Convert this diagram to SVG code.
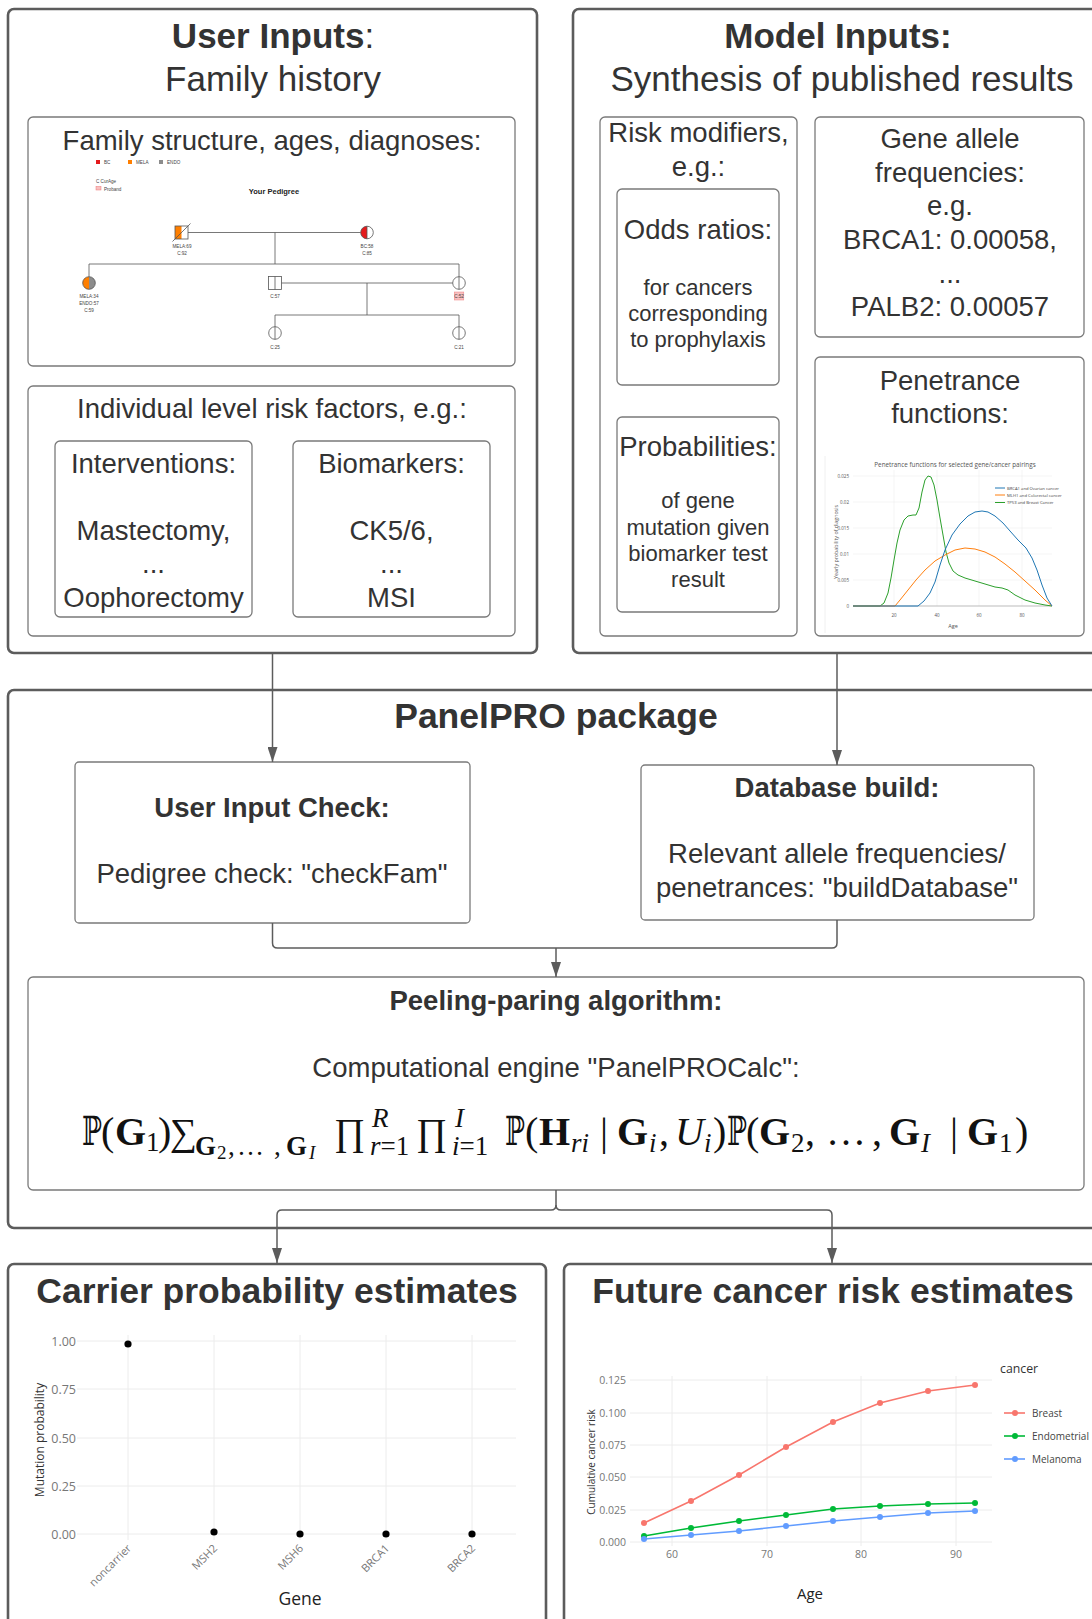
<svg xmlns="http://www.w3.org/2000/svg" width="1092" height="1619" viewBox="0 0 1092 1619">
<defs>
<style>
.outer{fill:#fff;stroke:#5c5c5c;stroke-width:2.6}
.inner{fill:#fff;stroke:#7a7a7a;stroke-width:1.3}
.t{font-family:"Liberation Sans",Arial,sans-serif;fill:#333;text-anchor:middle}
.h35{font-size:35px}
.b{font-weight:bold}
.f27{font-size:27.5px}
.f22{font-size:22px}
.conn{fill:none;stroke:#5c5c5c;stroke-width:1.5}
.ped{stroke:#555;stroke-width:0.8;fill:none}
.pt{font-family:"Liberation Sans",Arial,sans-serif;font-size:4.6px;fill:#444;text-anchor:middle}
.ct{font-family:"Open Sans","Liberation Sans",sans-serif;fill:#777}
.grid{stroke:#ececec;stroke-width:1}
.mf{font-family:"Liberation Serif","DejaVu Serif",serif;fill:#111}
.s27{font-size:27px}
.s19{font-size:19px}
.it{font-style:italic}
</style>
<marker id="ah" viewBox="0 0 15 10" refX="15" refY="5" markerWidth="15" markerHeight="10" markerUnits="userSpaceOnUse" orient="auto">
<path d="M0,0 L15,5 L0,10 z" fill="#5c5c5c"/>
</marker>
</defs>
<rect width="1092" height="1619" fill="#fff"/>

<!-- User Inputs -->
<g id="user-inputs">
<rect class="outer" x="8" y="9" width="529" height="644" rx="6"/>
<text class="t h35" x="273" y="48"><tspan class="b">User Inputs</tspan>:</text>
<text class="t h35" x="273" y="91">Family history</text>
</g>

<g id="family-structure">
<rect class="inner" x="28" y="117" width="487" height="249" rx="5"/>
<text class="t f27" x="272" y="150">Family structure, ages, diagnoses:</text>
<g id="pedigree">
<rect x="96" y="160" width="4" height="4" fill="#e41a1c"/>
<text class="pt" x="104" y="164" style="text-anchor:start">BC</text>
<rect x="128" y="160" width="4" height="4" fill="#ff7f00"/>
<text class="pt" x="136" y="164" style="text-anchor:start">MELA</text>
<rect x="159" y="160" width="4" height="4" fill="#8c8c8c"/>
<text class="pt" x="167" y="164" style="text-anchor:start">ENDO</text>
<text class="pt" x="96" y="183" style="text-anchor:start">C  CurAge</text>
<rect x="96" y="186.5" width="5" height="3.5" fill="#f9c0c0" stroke="#ee7777" stroke-width="0.5"/>
<text class="pt" x="104" y="190.5" style="text-anchor:start">Proband</text>
<text x="274" y="194" style="font-family:'Liberation Sans',Arial,sans-serif;font-size:7.5px;font-weight:bold;fill:#222;text-anchor:middle">Your Pedigree</text>
<path class="ped" d="M188,232.5 H360.7 M275,232.5 V264 M89,264 H459 M89,264 V276.7 M459,264 V276.7 M281.5,283 H452.7 M367,283 V315 M275,315 H459 M275,315 V326.7 M459,315 V326.7"/>
<rect x="175" y="226" width="6.5" height="13" fill="#ff7f00"/>
<rect class="ped" x="175" y="226" width="13" height="13"/>
<path class="ped" d="M172.5,241.5 L190.5,223.5"/>
<path d="M367,226.2 A6.3,6.3 0 0 0 367,238.8 Z" fill="#e41a1c"/>
<circle class="ped" cx="367" cy="232.5" r="6.3"/>
<path class="ped" d="M367,226.2 V238.8"/>
<path d="M89,276.7 A6.3,6.3 0 0 0 89,289.3 Z" fill="#ff7f00"/>
<path d="M89,276.7 A6.3,6.3 0 0 1 89,289.3 Z" fill="#8c8c8c"/>
<circle class="ped" cx="89" cy="283" r="6.3"/>
<rect class="ped" x="268.5" y="276.5" width="13" height="13"/>
<path class="ped" d="M275,276.5 V289.5"/>
<circle class="ped" cx="459" cy="283" r="6.3"/>
<path class="ped" d="M459,276.7 V289.3"/>
<rect x="454.3" y="292" width="9.5" height="8" fill="#f9c0c0" stroke="#f08080" stroke-width="0.5"/>
<circle class="ped" cx="275" cy="333" r="6.3"/>
<path class="ped" d="M275,326.7 V339.3"/>
<circle class="ped" cx="459" cy="333" r="6.3"/>
<path class="ped" d="M459,326.7 V339.3"/>
<text class="pt" x="182" y="248">MELA:69</text>
<text class="pt" x="182" y="255">C:92</text>
<text class="pt" x="367" y="248">BC:58</text>
<text class="pt" x="367" y="255">C:85</text>
<text class="pt" x="89" y="298">MELA:34</text>
<text class="pt" x="89" y="305">ENDO:57</text>
<text class="pt" x="89" y="312">C:59</text>
<text class="pt" x="275" y="298">C:57</text>
<text class="pt" x="459" y="298">C:52</text>
<text class="pt" x="275" y="349">C:25</text>
<text class="pt" x="459" y="349">C:21</text>
</g>
</g>

<g id="individual-risk">
<rect class="inner" x="28" y="386" width="487" height="250" rx="5"/>
<text class="t f27" x="272" y="418">Individual level risk factors, e.g.:</text>
</g>
<g id="interventions">
<rect class="inner" x="55" y="441" width="197" height="176" rx="5"/>
<text class="t f27" x="153.5" y="473">Interventions:</text>
<text class="t f27" x="153.5" y="540">Mastectomy,</text>
<text class="t f27" x="153.5" y="573">...</text>
<text class="t f27" x="153.5" y="607">Oophorectomy</text>
</g>
<g id="biomarkers">
<rect class="inner" x="293" y="441" width="197" height="176" rx="5"/>
<text class="t f27" x="391.5" y="473">Biomarkers:</text>
<text class="t f27" x="391.5" y="540">CK5/6,</text>
<text class="t f27" x="391.5" y="573">...</text>
<text class="t f27" x="391.5" y="607">MSI</text>
</g>

<!-- Model Inputs -->
<g id="model-inputs">
<rect class="outer" x="573" y="9" width="540" height="644" rx="6"/>
<text class="t h35 b" x="838" y="48">Model Inputs:</text>
<text class="t h35" x="842" y="91">Synthesis of published results</text>
</g>
<g id="risk-modifiers">
<rect class="inner" x="600" y="117" width="197" height="519" rx="5"/>
<text class="t f27" x="698.5" y="142">Risk modifiers,</text>
<text class="t f27" x="698.5" y="176">e.g.:</text>
</g>
<g id="odds-ratios">
<rect class="inner" x="617" y="189" width="162" height="196" rx="5"/>
<text class="t f27" x="698" y="239">Odds ratios:</text>
<text class="t f22" x="698" y="295">for cancers</text>
<text class="t f22" x="698" y="321">corresponding</text>
<text class="t f22" x="698" y="347">to prophylaxis</text>
</g>
<g id="probabilities">
<rect class="inner" x="617" y="417" width="162" height="195" rx="5"/>
<text class="t f27" x="698" y="456">Probabilities:</text>
<text class="t f22" x="698" y="508">of gene</text>
<text class="t f22" x="698" y="535">mutation given</text>
<text class="t f22" x="698" y="561">biomarker test</text>
<text class="t f22" x="698" y="587">result</text>
</g>
<g id="allele-frequencies">
<rect class="inner" x="815" y="117" width="269" height="220" rx="5"/>
<text class="t f27" x="950" y="148">Gene allele</text>
<text class="t f27" x="950" y="182">frequencies:</text>
<text class="t f27" x="950" y="215">e.g.</text>
<text class="t f27" x="950" y="249">BRCA1: 0.00058,</text>
<text class="t f27" x="950" y="283">...</text>
<text class="t f27" x="950" y="316">PALB2: 0.00057</text>
</g>
<g id="penetrance">
<rect class="inner" x="815" y="357" width="269" height="279" rx="5"/>
<text class="t f27" x="950" y="390">Penetrance</text>
<text class="t f27" x="950" y="423">functions:</text>
<line x1="825" y1="456" x2="825" y2="633" stroke="#f0f0f0" stroke-width="1"/>
<text x="955" y="467" style="font-family:'Open Sans','Liberation Sans',sans-serif;font-size:6.3px;fill:#555;text-anchor:middle">Penetrance functions for selected gene/cancer pairings</text>
<g stroke="#eeeeee" stroke-width="0.6">
<line x1="853" y1="476" x2="1052" y2="476"/><line x1="853" y1="502" x2="1052" y2="502"/><line x1="853" y1="528" x2="1052" y2="528"/><line x1="853" y1="554" x2="1052" y2="554"/><line x1="853" y1="580" x2="1052" y2="580"/>
<line x1="894" y1="470" x2="894" y2="606"/><line x1="937" y1="470" x2="937" y2="606"/><line x1="979" y1="470" x2="979" y2="606"/><line x1="1022" y1="470" x2="1022" y2="606"/>
</g>
<line x1="853" y1="606" x2="1052" y2="606" stroke="#aaa" stroke-width="0.8"/>
<g style="font-family:'Open Sans','Liberation Sans',sans-serif;font-size:4.5px;fill:#555;text-anchor:end">
<text x="849" y="478">0.025</text><text x="849" y="504">0.02</text><text x="849" y="530">0.015</text><text x="849" y="556">0.01</text><text x="849" y="582">0.005</text><text x="849" y="608">0</text>
</g>
<g style="font-family:'Open Sans','Liberation Sans',sans-serif;font-size:4.5px;fill:#555;text-anchor:middle">
<text x="894" y="617">20</text><text x="937" y="617">40</text><text x="979" y="617">60</text><text x="1022" y="617">80</text>
</g>
<text x="953" y="628" style="font-family:'Open Sans','Liberation Sans',sans-serif;font-size:5.5px;fill:#555;text-anchor:middle">Age</text>
<text transform="translate(838,542) rotate(-90)" style="font-family:'Open Sans','Liberation Sans',sans-serif;font-size:5.3px;fill:#555;text-anchor:middle">Yearly probability of diagnosis</text>
<polyline fill="none" stroke="#2ca02c" stroke-width="1" stroke-linejoin="round" points="853,606 880,606 884,603 888,593 891,578 894,560 897,543 900,530 904,520 908,516 913,515 916,515 919,508 922,492 925,480 928,476 931,477 934,485 937,500 940,518 943,535 946,552 949,563 953,571 958,575 965,578 975,581 985,584 995,587 1002,588 1008,590 1015,595 1025,600 1035,603 1045,605 1052,606"/>
<polyline fill="none" stroke="#ff7f0e" stroke-width="1" stroke-linejoin="round" points="853,606 895,606 900,600 908,590 916,580 925,570 935,561 945,555 955,550 965,548 975,549 985,552 995,557 1005,564 1015,572 1025,581 1035,590 1045,600 1052,606"/>
<polyline fill="none" stroke="#1f77b4" stroke-width="1" stroke-linejoin="round" points="853,606 918,606 924,601 930,593 935,582 940,565 945,550 952,535 960,524 968,516 975,512 982,511 988,512 995,516 1003,523 1010,531 1018,540 1026,548 1032,558 1037,570 1042,585 1047,598 1052,606"/>
<g stroke-width="1"><line x1="995" y1="488" x2="1005" y2="488" stroke="#1f77b4"/><line x1="995" y1="495" x2="1005" y2="495" stroke="#ff7f0e"/><line x1="995" y1="502.5" x2="1005" y2="502.5" stroke="#2ca02c"/></g>
<g style="font-family:'Open Sans','Liberation Sans',sans-serif;font-size:4.2px;fill:#444">
<text x="1007" y="489.5">BRCA1 and Ovarian cancer</text><text x="1007" y="496.5">MLH1 and Colorectal cancer</text><text x="1007" y="504">TP53 and Breast Cancer</text>
</g>
</g>

<!-- PanelPRO -->
<g id="panelpro-package">
<rect class="outer" x="8" y="690" width="1105" height="538" rx="6"/>
<text class="t b" style="font-size:35.5px" x="556" y="728">PanelPRO package</text>
</g>
<g id="user-input-check">
<rect class="inner" x="75" y="762" width="395" height="161" rx="4"/>
<text class="t f27 b" x="272" y="817">User Input Check:</text>
<text class="t f27" x="272" y="883">Pedigree check: "checkFam"</text>
</g>
<g id="database-build">
<rect class="inner" x="641" y="765" width="393" height="155" rx="4"/>
<text class="t f27 b" x="837" y="797">Database build:</text>
<text class="t f27" x="837" y="863">Relevant allele frequencies/</text>
<text class="t f27" x="837" y="897">penetrances: "buildDatabase"</text>
</g>
<g id="peeling-paring">
<rect class="inner" x="28" y="977" width="1056" height="213" rx="5"/>
<text class="t f27 b" x="556" y="1010">Peeling-paring algorithm:</text>
<text class="t f27" x="556" y="1077">Computational engine "PanelPROCalc":</text>
<g class="mf" style="font-size:40px">
<text transform="translate(82,1145) scale(0.66,1)">ℙ</text>
<text transform="translate(505,1145) scale(0.66,1)">ℙ</text>
<text transform="translate(727,1145) scale(0.66,1)">ℙ</text>
<text y="1145"><tspan x="101">(</tspan><tspan x="115" font-weight="bold">G</tspan><tspan x="146" y="1151" class="s27">1</tspan><tspan x="158" y="1145">)</tspan><tspan x="170" y="1145" style="font-size:38px">∑</tspan><tspan x="195" y="1155" class="s27" font-weight="bold">G</tspan><tspan x="217" y="1159" class="s19">2</tspan><tspan x="228" y="1155" class="s27">,</tspan><tspan x="237" y="1155" class="s27">…</tspan><tspan x="274" y="1155" class="s27">,</tspan><tspan x="286" y="1155" class="s27" font-weight="bold">G</tspan><tspan x="309" y="1159" class="s19 it">I</tspan><tspan x="334" y="1145" style="font-size:38px">∏</tspan><tspan x="372" y="1127" class="s27 it">R</tspan><tspan x="370" y="1155" class="s27"><tspan class="it">r</tspan>=1</tspan><tspan x="416" y="1145" style="font-size:38px">∏</tspan><tspan x="455" y="1127" class="s27 it">I</tspan><tspan x="452" y="1155" class="s27"><tspan class="it">i</tspan>=1</tspan><tspan x="525" y="1145">(</tspan><tspan x="539" y="1145" font-weight="bold">H</tspan><tspan x="571" y="1152" class="s27 it">ri</tspan><tspan x="600" y="1145">|</tspan><tspan x="617" y="1145" font-weight="bold">G</tspan><tspan x="649" y="1152" class="s27 it">i</tspan><tspan x="659" y="1145">,</tspan><tspan x="675" y="1145" class="it">U</tspan><tspan x="704" y="1152" class="s27 it">i</tspan><tspan x="713" y="1145">)</tspan><tspan x="746" y="1145">(</tspan><tspan x="759" y="1145" font-weight="bold">G</tspan><tspan x="791" y="1152" class="s27">2</tspan><tspan x="805" y="1145">,</tspan><tspan x="826" y="1145">…</tspan><tspan x="872" y="1145">,</tspan><tspan x="889" y="1145" font-weight="bold">G</tspan><tspan x="921" y="1152" class="s27 it">I</tspan><tspan x="950" y="1145">|</tspan><tspan x="967" y="1145" font-weight="bold">G</tspan><tspan x="999" y="1152" class="s27">1</tspan><tspan x="1015" y="1145">)</tspan></text>
</g>
</g>

<!-- Carrier probability -->
<g id="carrier-probability">
<rect class="outer" x="8" y="1264" width="538" height="380" rx="6"/>
<text class="t b" style="font-size:35.5px" x="277" y="1303">Carrier probability estimates</text>
<g class="grid">
<line x1="77" y1="1341" x2="516" y2="1341"/><line x1="77" y1="1389" x2="516" y2="1389"/><line x1="77" y1="1438" x2="516" y2="1438"/><line x1="77" y1="1486" x2="516" y2="1486"/><line x1="77" y1="1534" x2="516" y2="1534"/>
<line x1="128" y1="1335" x2="128" y2="1540"/><line x1="214" y1="1335" x2="214" y2="1540"/><line x1="300" y1="1335" x2="300" y2="1540"/><line x1="386" y1="1335" x2="386" y2="1540"/><line x1="472" y1="1335" x2="472" y2="1540"/>
</g>
<g class="ct" style="font-size:12.5px;text-anchor:end">
<text x="76" y="1345.5">1.00</text><text x="76" y="1393.5">0.75</text><text x="76" y="1442.5">0.50</text><text x="76" y="1490.5">0.25</text><text x="76" y="1538.5">0.00</text>
</g>
<g class="ct" style="font-size:11px;text-anchor:end">
<text transform="translate(132,1549) rotate(-45)">noncarrier</text>
<text transform="translate(218,1549) rotate(-45)">MSH2</text>
<text transform="translate(304,1549) rotate(-45)">MSH6</text>
<text transform="translate(390,1549) rotate(-45)">BRCA1</text>
<text transform="translate(476,1549) rotate(-45)">BRCA2</text>
</g>
<text transform="translate(44,1440) rotate(-90)" style="font-family:'Open Sans','Liberation Sans',sans-serif;font-size:12px;fill:#333;text-anchor:middle">Mutation probability</text>
<text x="300" y="1605" style="font-family:'Open Sans','Liberation Sans',sans-serif;font-size:17.5px;fill:#222;text-anchor:middle">Gene</text>
<g fill="#000">
<circle cx="128" cy="1344" r="3.6"/><circle cx="214" cy="1532" r="3.6"/><circle cx="300" cy="1534" r="3.6"/><circle cx="386" cy="1534" r="3.6"/><circle cx="472" cy="1534" r="3.6"/>
</g>
</g>

<!-- Future cancer risk -->
<g id="future-risk">
<rect class="outer" x="564" y="1264" width="550" height="380" rx="6"/>
<text class="t b" style="font-size:35.5px" x="833" y="1303">Future cancer risk estimates</text>
<g class="grid">
<line x1="630" y1="1380" x2="992" y2="1380"/><line x1="630" y1="1413" x2="992" y2="1413"/><line x1="630" y1="1445" x2="992" y2="1445"/><line x1="630" y1="1477" x2="992" y2="1477"/><line x1="630" y1="1510" x2="992" y2="1510"/><line x1="630" y1="1542" x2="992" y2="1542"/>
<line x1="672" y1="1376" x2="672" y2="1546"/><line x1="767" y1="1376" x2="767" y2="1546"/><line x1="861" y1="1376" x2="861" y2="1546"/><line x1="956" y1="1376" x2="956" y2="1546"/>
</g>
<g class="ct" style="font-size:10.5px;text-anchor:end">
<text x="626" y="1384">0.125</text><text x="626" y="1417">0.100</text><text x="626" y="1449">0.075</text><text x="626" y="1481">0.050</text><text x="626" y="1514">0.025</text><text x="626" y="1546">0.000</text>
</g>
<g class="ct" style="font-size:10.5px;text-anchor:middle">
<text x="672" y="1558">60</text><text x="767" y="1558">70</text><text x="861" y="1558">80</text><text x="956" y="1558">90</text>
</g>
<text x="810" y="1599" style="font-family:'Open Sans','Liberation Sans',sans-serif;font-size:15px;fill:#222;text-anchor:middle">Age</text>
<text transform="translate(595,1462) rotate(-90)" style="font-family:'Open Sans','Liberation Sans',sans-serif;font-size:10px;fill:#333;text-anchor:middle">Cumulative cancer risk</text>
<polyline fill="none" stroke="#F8766D" stroke-width="1.6" points="644,1523 691,1501 739,1475 786,1447 833,1422 880,1403 928,1391 975,1385"/>
<polyline fill="none" stroke="#00BA38" stroke-width="1.6" points="644,1536 691,1528 739,1521 786,1515 833,1509 880,1506 928,1504 975,1503"/>
<polyline fill="none" stroke="#619CFF" stroke-width="1.6" points="644,1539 691,1535 739,1531 786,1526 833,1521 880,1517 928,1513 975,1511"/>
<g fill="#F8766D"><circle cx="644" cy="1523" r="3"/><circle cx="691" cy="1501" r="3"/><circle cx="739" cy="1475" r="3"/><circle cx="786" cy="1447" r="3"/><circle cx="833" cy="1422" r="3"/><circle cx="880" cy="1403" r="3"/><circle cx="928" cy="1391" r="3"/><circle cx="975" cy="1385" r="3"/></g>
<g fill="#00BA38"><circle cx="644" cy="1536" r="3"/><circle cx="691" cy="1528" r="3"/><circle cx="739" cy="1521" r="3"/><circle cx="786" cy="1515" r="3"/><circle cx="833" cy="1509" r="3"/><circle cx="880" cy="1506" r="3"/><circle cx="928" cy="1504" r="3"/><circle cx="975" cy="1503" r="3"/></g>
<g fill="#619CFF"><circle cx="644" cy="1539" r="3"/><circle cx="691" cy="1535" r="3"/><circle cx="739" cy="1531" r="3"/><circle cx="786" cy="1526" r="3"/><circle cx="833" cy="1521" r="3"/><circle cx="880" cy="1517" r="3"/><circle cx="928" cy="1513" r="3"/><circle cx="975" cy="1511" r="3"/></g>
<text x="1000" y="1373" style="font-family:'Open Sans','Liberation Sans',sans-serif;font-size:12.3px;fill:#333">cancer</text>
<line x1="1004" y1="1413" x2="1025" y2="1413" stroke="#F8766D" stroke-width="1.6"/><circle cx="1015" cy="1413" r="3" fill="#F8766D"/>
<line x1="1004" y1="1436" x2="1025" y2="1436" stroke="#00BA38" stroke-width="1.6"/><circle cx="1015" cy="1436" r="3" fill="#00BA38"/>
<line x1="1004" y1="1459" x2="1025" y2="1459" stroke="#619CFF" stroke-width="1.6"/><circle cx="1015" cy="1459" r="3" fill="#619CFF"/>
<g style="font-family:'Open Sans','Liberation Sans',sans-serif;font-size:10px;fill:#444">
<text x="1032" y="1416.5">Breast</text><text x="1032" y="1439.5">Endometrial</text><text x="1032" y="1462.5">Melanoma</text>
</g>
</g>

<!-- Connectors -->
<g id="connectors">
<path class="conn" d="M272.5,654 V762" marker-end="url(#ah)"/>
<path class="conn" d="M837,654 V765" marker-end="url(#ah)"/>
<path class="conn" d="M272.5,923 V943 Q272.5,948 277.5,948 H832 Q837,948 837,943 V920"/>
<path class="conn" d="M556,948 V977" marker-end="url(#ah)"/>
<path class="conn" d="M556,1190 V1205 Q556,1210 551,1210 H282 Q277,1210 277,1215 V1263" marker-end="url(#ah)"/>
<path class="conn" d="M556,1205 Q556,1210 561,1210 H827 Q832,1210 832,1215 V1263" marker-end="url(#ah)"/>
</g>
</svg>
